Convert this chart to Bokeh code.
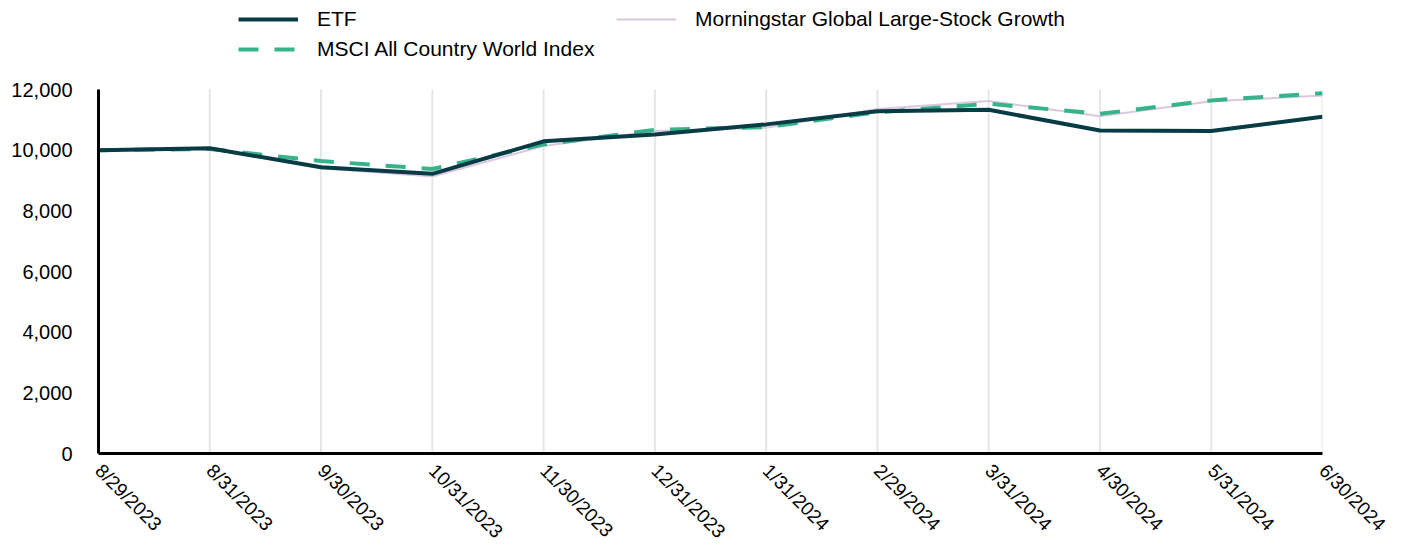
import math
from bokeh.plotting import figure
from bokeh.models import (Range1d, FixedTicker, NumeralTickFormatter, Legend, LegendItem)
from bokeh.embed import file_html
from bokeh.resources import INLINE

dates = ["8/29/2023", "8/31/2023", "9/30/2023", "10/31/2023", "11/30/2023", "12/31/2023",
         "1/31/2024", "2/29/2024", "3/31/2024", "4/30/2024", "5/31/2024", "6/30/2024"]
etf = [10000, 10060, 9440, 9220, 10290, 10520, 10850, 11280, 11330, 10650, 10630, 11100]
msci = [10000, 10040, 9640, 9380, 10190, 10670, 10760, 11250, 11530, 11200, 11640, 11880]
mstar = [10000, 10050, 9400, 9130, 10140, 10630, 10740, 11360, 11620, 11120, 11610, 11800]
y_ticks = [0, 2000, 4000, 6000, 8000, 10000, 12000]

names = ["ETF", "MSCI All Country World Index", "Morningstar Global Large-Stock Growth"]

xs = list(range(len(dates)))

FONT = "Liberation Sans"
y_top = y_ticks[-1] * 453 / 364  # frame extends to top of canvas; axis stops at 12,000

p = figure(width=1407, height=552, output_backend="svg", toolbar_location=None,
           x_range=Range1d(0, len(dates) - 1), y_range=Range1d(y_ticks[0], y_top),
           min_border_left=98, min_border_right=85, min_border_top=0, min_border_bottom=99)
p.outline_line_color = None
p.background_fill_color = "white"
p.border_fill_color = "white"

# vertical grid lines, limited to the 0..12,000 span of the value axis
p.segment(x0=xs, y0=[y_ticks[0]] * len(xs), x1=xs, y1=[y_ticks[-1]] * len(xs),
          line_color="#e6e6e6", line_width=2)

r_ms = p.line(xs, mstar, line_color="#dcc6e0", line_width=2)
r_msci = p.line(xs, msci, line_color="#36b38a", line_width=4, line_dash="20 16")
r_etf = p.line(xs, etf, line_color="#073b45", line_width=4)

# axes
p.xaxis.ticker = FixedTicker(ticks=xs)
p.xaxis.major_label_overrides = {i: d for i, d in enumerate(dates)}
p.xaxis.major_label_orientation = -math.pi / 4
p.yaxis.ticker = FixedTicker(ticks=y_ticks)
p.yaxis.formatter = NumeralTickFormatter(format="0,0")
p.yaxis.bounds = (y_ticks[0], y_ticks[-1])
for ax in (p.xaxis[0], p.yaxis[0]):
    ax.axis_line_color = "black"
    ax.axis_line_width = 3
    ax.major_tick_line_color = None
    ax.minor_tick_line_color = None
    ax.major_label_text_font = FONT
    ax.major_label_text_color = "black"
p.yaxis.major_label_text_font_size = "20px"
p.xaxis.major_label_text_font_size = "19px"
p.yaxis.major_label_standoff = 20
p.xaxis.major_label_standoff = 8

p.xgrid.grid_line_color = None
p.ygrid.grid_line_color = None

legend = Legend(items=[LegendItem(label=names[0], renderers=[r_etf]),
                       LegendItem(label=names[1], renderers=[r_msci]),
                       LegendItem(label=names[2], renderers=[r_ms])],
                orientation="vertical", nrows=2,
                location=(140, 392))
legend.label_text_font = FONT
legend.label_text_font_size = "21px"
legend.label_text_color = "black"
legend.glyph_width = 60
legend.glyph_height = 24
legend.label_height = 24
legend.label_width = 293
legend.label_standoff = 19
legend.spacing = 6
legend.padding = 0
legend.margin = 0
legend.border_line_color = None
legend.background_fill_alpha = 0
p.add_layout(legend, "center")

open("out.html", "w").write(file_html(p, INLINE))
